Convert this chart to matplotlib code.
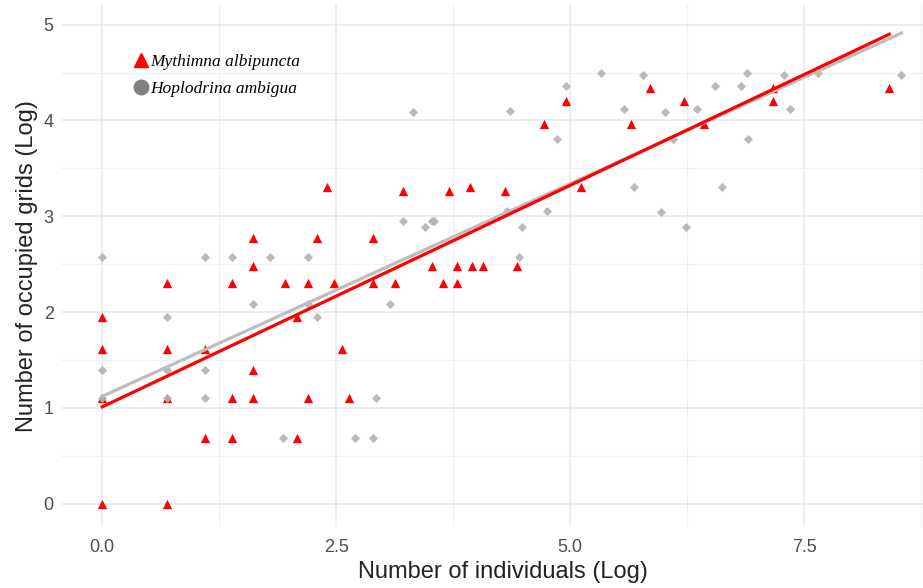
import numpy as np
import matplotlib
matplotlib.use("Agg")
import matplotlib.pyplot as plt
from matplotlib.lines import Line2D

# Mythimna albipuncta (red triangles), log values
mythimna_x = [0, 0, 0, 0, 0.69, 0.69, 0.69, 0.69, 1.10, 1.10,
              1.39, 1.39, 1.39, 1.61, 1.61, 1.61, 1.61, 1.95, 2.08, 2.08,
              2.20, 2.20, 2.30, 2.48, 2.56, 2.64, 2.40, 2.89, 2.89, 3.21,
              3.13, 3.52, 3.64, 3.71, 3.79, 3.79, 3.93, 3.95, 4.07, 4.30,
              4.43, 4.72, 4.96, 5.12, 5.65, 5.85, 6.22, 6.43, 7.17, 7.17,
              8.41]
mythimna_y = [1.95, 1.61, 1.10, 0, 2.30, 1.61, 1.10, 0, 1.61, 0.69,
              2.30, 1.10, 0.69, 2.77, 2.48, 1.39, 1.10, 2.30, 1.95, 0.69,
              2.30, 1.10, 2.77, 2.30, 1.61, 1.10, 3.30, 2.77, 2.30, 3.26,
              2.30, 2.48, 2.30, 3.26, 2.48, 2.30, 3.30, 2.48, 2.48, 3.26,
              2.48, 3.96, 4.20, 3.30, 3.96, 4.34, 4.20, 3.96, 4.34, 4.20,
              4.34]

# Hoplodrina ambigua (grey diamonds)
hoplodrina_x = [0, 0, 0, 0.69, 0.69, 0.69, 1.10, 1.10, 1.10, 1.39,
                1.61, 1.79, 1.93, 2.20, 2.20, 2.30, 2.70, 2.89, 2.93, 3.08,
                3.21, 3.45, 3.52, 3.55, 4.33, 4.48, 4.45, 4.75, 4.36, 4.86,
                4.96, 5.33, 5.58, 5.68, 5.78, 5.97, 6.01, 6.10, 6.24, 6.35,
                6.55, 6.62, 6.82, 6.89, 6.90, 7.29, 7.35, 7.65, 8.54, 3.32]
hoplodrina_y = [2.57, 1.39, 1.10, 1.95, 1.39, 1.10, 2.57, 1.39, 1.10, 2.57,
                2.08, 2.57, 0.69, 2.57, 2.08, 1.95, 0.69, 0.69, 1.10, 2.08,
                2.95, 2.89, 2.95, 2.95, 3.05, 2.89, 2.57, 3.05, 4.10, 3.81,
                4.36, 4.50, 4.12, 3.30, 4.47, 3.04, 4.09, 3.81, 2.89, 4.12,
                4.36, 3.30, 4.36, 4.50, 3.81, 4.47, 4.12, 4.50, 4.47, 4.09]

# linear fits (intercept, slope) as drawn in the chart
mythimna_fit = [1.01, 0.4625]
hoplodrina_fit = [1.12, 0.444]

species = ["Mythimna albipuncta", "Hoplodrina ambigua"]
x_ticks = [0, 2.5, 5.0, 7.5]
x_tick_labels = ["0.0", "2.5", "5.0", "7.5"]
y_ticks = [0, 1, 2, 3, 4, 5]

W, H = 923, 588
fig = plt.figure(figsize=(W / 100, H / 100), dpi=100)
ax = fig.add_axes([62 / W, 1 - 527.4 / H, (W - 62) / W, (527.4 - 4.7) / H])

ax.set_xlim(-0.43, 8.77)
ax.set_ylim(-0.248, 5.208)

ax.scatter(mythimna_x, mythimna_y, marker="^", s=45, color="red",
           linewidths=0, zorder=3)
ax.scatter(hoplodrina_x, hoplodrina_y, marker="D", s=22, color="#b3b3b3",
           linewidths=0, alpha=0.9, zorder=4)

xs = np.linspace(min(hoplodrina_x), max(hoplodrina_x), 50)
ax.plot(xs, hoplodrina_fit[0] + hoplodrina_fit[1] * xs, color="#bdbdbd",
        lw=2.3, zorder=5)
xs = np.linspace(min(mythimna_x), max(mythimna_x), 50)
ax.plot(xs, mythimna_fit[0] + mythimna_fit[1] * xs, color="red",
        lw=2.3, zorder=6)

# ggplot-like minimal theme
for sp in ax.spines.values():
    sp.set_visible(False)
ax.set_xticks(x_ticks)
ax.set_xticklabels(x_tick_labels)
ax.set_yticks(y_ticks)
ax.set_xticks([1.25, 3.75, 6.25, 8.75], minor=True)
ax.set_yticks([0.5, 1.5, 2.5, 3.5, 4.5], minor=True)
ax.grid(which="major", color="#e8e8e8", lw=1.1)
ax.grid(which="minor", color="#f0f0f0", lw=0.8)
ax.set_axisbelow(True)
ax.tick_params(which="both", length=0, labelsize=13, labelcolor="#4d4d4d")
ax.tick_params(axis="x", pad=8)
ax.tick_params(axis="y", pad=6)
for lab in ax.get_xticklabels() + ax.get_yticklabels():
    lab.set_family("Liberation Sans")

ax.set_xlabel("Number of individuals (Log)", fontsize=17, family="Liberation Sans",
              color="#222222", va="center")
ax.set_ylabel("Number of occupied grids (Log)", fontsize=17, family="Liberation Sans",
              color="#222222")
ax.xaxis.set_label_coords((503 - 62) / (W - 62), -(572 - 527.4) / 522.7)

handles = [Line2D([], [], marker="^", ls="", color="red", ms=10.5),
           Line2D([], [], marker="o", ls="", color="#808080", ms=10.5)]
ax.legend(handles, species, loc="upper left",
          bbox_to_anchor=(134 / W, 1 - 54 / H), bbox_transform=fig.transFigure,
          frameon=False, borderpad=0, borderaxespad=0, handlelength=0.8,
          handletextpad=0.15, labelspacing=0.6,
          prop={"family": "Liberation Serif", "style": "italic", "size": 12.5})

fig.savefig("out.png", dpi=100)
